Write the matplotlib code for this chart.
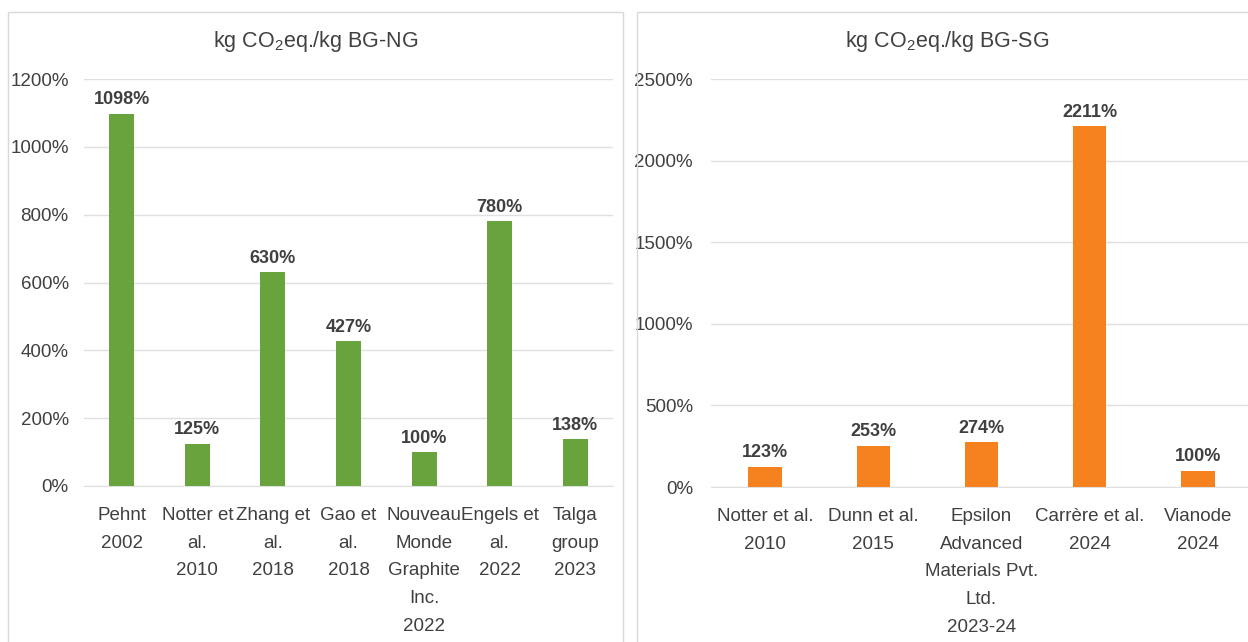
import matplotlib
matplotlib.use("Agg")
import matplotlib.pyplot as plt
from matplotlib.patches import Rectangle
from matplotlib.ticker import FuncFormatter

plt.rcParams['font.family'] = ['Liberation Sans Narrow', 'Liberation Sans', 'DejaVu Sans']

# Natural graphite based (BG-NG) studies
ng_labels = ["Pehnt\n2002", "Notter et\nal.\n2010", "Zhang et\nal.\n2018", "Gao et\nal.\n2018",
             "Nouveau\nMonde\nGraphite\nInc.\n2022", "Engels et\nal.\n2022", "Talga\ngroup\n2023"]
ng_values = [1098, 125, 630, 427, 100, 780, 138]
ng_ticks = [0, 200, 400, 600, 800, 1000, 1200]

# Synthetic graphite based (BG-SG) studies
sg_labels = ["Notter et al.\n2010", "Dunn et al.\n2015", "Epsilon\nAdvanced\nMaterials Pvt.\nLtd.\n2023-24",
             "Carrère et al.\n2024", "Vianode\n2024"]
sg_values = [123, 253, 274, 2211, 100]
sg_ticks = [0, 500, 1000, 1500, 2000, 2500]

W, H = 1248, 642
fig = plt.figure(figsize=(W / 100, H / 100), dpi=100)
fig.patch.set_facecolor("white")

TEXT = "#404040"
GRID = "#e0e0e0"


def fx(px):
    return px / W


def fy(py):
    return 1 - py / H


# panel frames
for x0, x1 in [(8, 623), (637, 1260)]:
    fig.patches.append(Rectangle((fx(x0), fy(650)), fx(x1 - x0), fy(12) - fy(650),
                                 transform=fig.transFigure, fill=False,
                                 edgecolor="#d9d9d9", linewidth=1.0, zorder=0))


def panel(rect, labels, values, ticks, color, title, title_x, bar_w, ypad):
    ax = fig.add_axes(rect)
    x = list(range(len(values)))
    ax.bar(x, values, width=bar_w, color=color, zorder=3)
    ax.set_xlim(-0.5, len(values) - 0.5)
    ax.set_ylim(ticks[0], ticks[-1])
    ax.set_yticks(ticks)
    ax.yaxis.set_major_formatter(FuncFormatter(lambda v, p: f"{int(v)}%"))
    ax.set_xticks(x)
    ax.set_xticklabels(labels, fontsize=13.5, color=TEXT, linespacing=1.83)
    ax.tick_params(axis="y", labelsize=13.5, labelcolor=TEXT, length=0, pad=ypad)
    ax.tick_params(axis="x", length=0, pad=15)
    ax.grid(axis="y", color=GRID, linewidth=1.0, zorder=0)
    for s in ["top", "right", "left"]:
        ax.spines[s].set_visible(False)
    ax.spines["bottom"].set_color(GRID)
    for xi, v in zip(x, values):
        ax.annotate(f"{v}%", (xi, v), xytext=(0, 4), textcoords="offset points",
                    ha="center", va="bottom", fontsize=13, color=TEXT, fontweight="bold")
    fig.text(title_x, fy(42), title, ha="center", va="center", fontsize=15.5, color=TEXT)
    return ax


panel([fx(84), fy(486), fx(613 - 84), fy(79) - fy(486)], ng_labels, ng_values, ng_ticks,
      "#68A33E", r"kg CO$_\mathregular{2}$eq./kg BG-NG", fx(316), 0.33, 11)
panel([fx(711), fy(487), fx(1252 - 711), fy(79) - fy(487)], sg_labels, sg_values, sg_ticks,
      "#F5821F", r"kg CO$_\mathregular{2}$eq./kg BG-SG", fx(947), 0.31, 13)

fig.savefig("out.png", dpi=100, facecolor="white")
